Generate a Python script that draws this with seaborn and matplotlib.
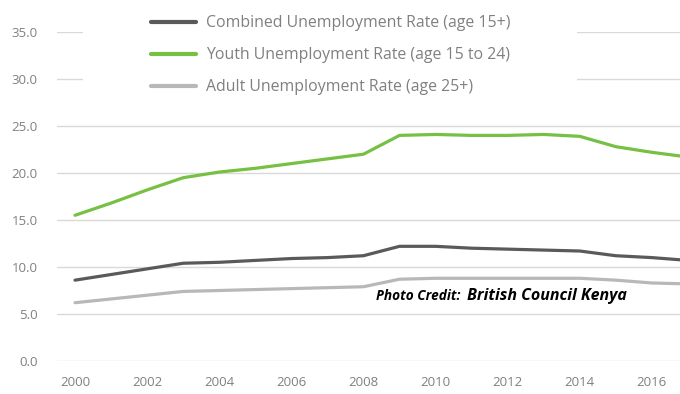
import numpy as np
import pandas as pd
import matplotlib
matplotlib.use("Agg")
import matplotlib.pyplot as plt
from matplotlib.patches import Rectangle
import seaborn as sns

years = list(range(2000, 2018))
combined = [8.6, 9.2, 9.8, 10.4, 10.5, 10.7, 10.9, 11.0, 11.2, 12.2, 12.2, 12.0, 11.9, 11.8, 11.7, 11.2, 11.0, 10.7]
youth = [15.5, 16.8, 18.2, 19.5, 20.1, 20.5, 21.0, 21.5, 22.0, 24.0, 24.1, 24.0, 24.0, 24.1, 23.9, 22.8, 22.2, 21.7]
adult = [6.2, 6.6, 7.0, 7.4, 7.5, 7.6, 7.7, 7.8, 7.9, 8.7, 8.8, 8.8, 8.8, 8.8, 8.8, 8.6, 8.3, 8.2]
series_names = ["Combined Unemployment Rate (age 15+)",
                "Youth Unemployment Rate (age 15 to 24)",
                "Adult Unemployment Rate (age 25+)"]
yticks = [0, 5, 10, 15, 20, 25, 30, 35]
xticks = list(range(2000, 2017, 2))

df = pd.DataFrame({
    "year": years * 3,
    "rate": combined + youth + adult,
    "series": [series_names[0]] * len(years) + [series_names[1]] * len(years) + [series_names[2]] * len(years),
})

sns.set_theme(style="white")
plt.rcParams["font.family"] = ["Open Sans", "DejaVu Sans"]

W, H = 680, 394
fig = plt.figure(figsize=(6.8, 3.94), dpi=100)
ax = fig.add_axes([57 / W, 1 - 361 / H, 1 - 57 / W, (361 - 32) / H])

palette = {series_names[0]: "#5a5a5a", series_names[1]: "#76c043", series_names[2]: "#b8b8b8"}
sns.lineplot(data=df, x="year", y="rate", hue="series", palette=palette,
             hue_order=series_names, linewidth=2.3, ax=ax, legend=True)

ax.set_ylim(0, 35)
ax.set_xlim(1999.5, 2016.78)
ax.set_yticks(yticks)
ax.set_yticklabels([f"{v:.1f}" for v in yticks])
ax.set_xticks(xticks)
ax.set_xticklabels([str(x) for x in xticks])
ax.set_xlabel("")
ax.set_ylabel("")
for s in ax.spines.values():
    s.set_visible(False)
ax.grid(axis="y", color="#d9d9d9", linewidth=1)
ax.set_axisbelow(True)
ax.tick_params(axis="y", colors="#808080", labelsize=9.5, length=0, pad=14)
ax.tick_params(axis="x", colors="#808080", labelsize=9.5, length=0, pad=11)

# white block behind the legend, interrupting gridlines
ax.add_patch(Rectangle((83 / W, 1 - 100 / H), (577 - 83) / W, 100 / H,
                       transform=fig.transFigure, facecolor="white",
                       edgecolor="none", zorder=1, clip_on=False))

leg = ax.legend(loc="upper left", bbox_to_anchor=(140 / W, 1 - 4 / H),
                bbox_transform=fig.transFigure, frameon=False, fontsize=11.4,
                handlelength=2.85, handletextpad=0.6, labelspacing=1.02,
                borderpad=0.2)
for t in leg.get_texts():
    t.set_color("#808080")
for l in leg.get_lines():
    l.set_linewidth(3)

fig.text(376 / W, 1 - 296 / H, "Photo Credit:", fontsize=9.8, fontweight="bold",
         fontstyle="italic", color="black", va="center", ha="left")
fig.text(467 / W, 1 - 296 / H, "British Council Kenya", fontsize=11.5, fontweight="bold",
         fontstyle="italic", color="black", va="center", ha="left")

fig.savefig("out.png", dpi=100)
